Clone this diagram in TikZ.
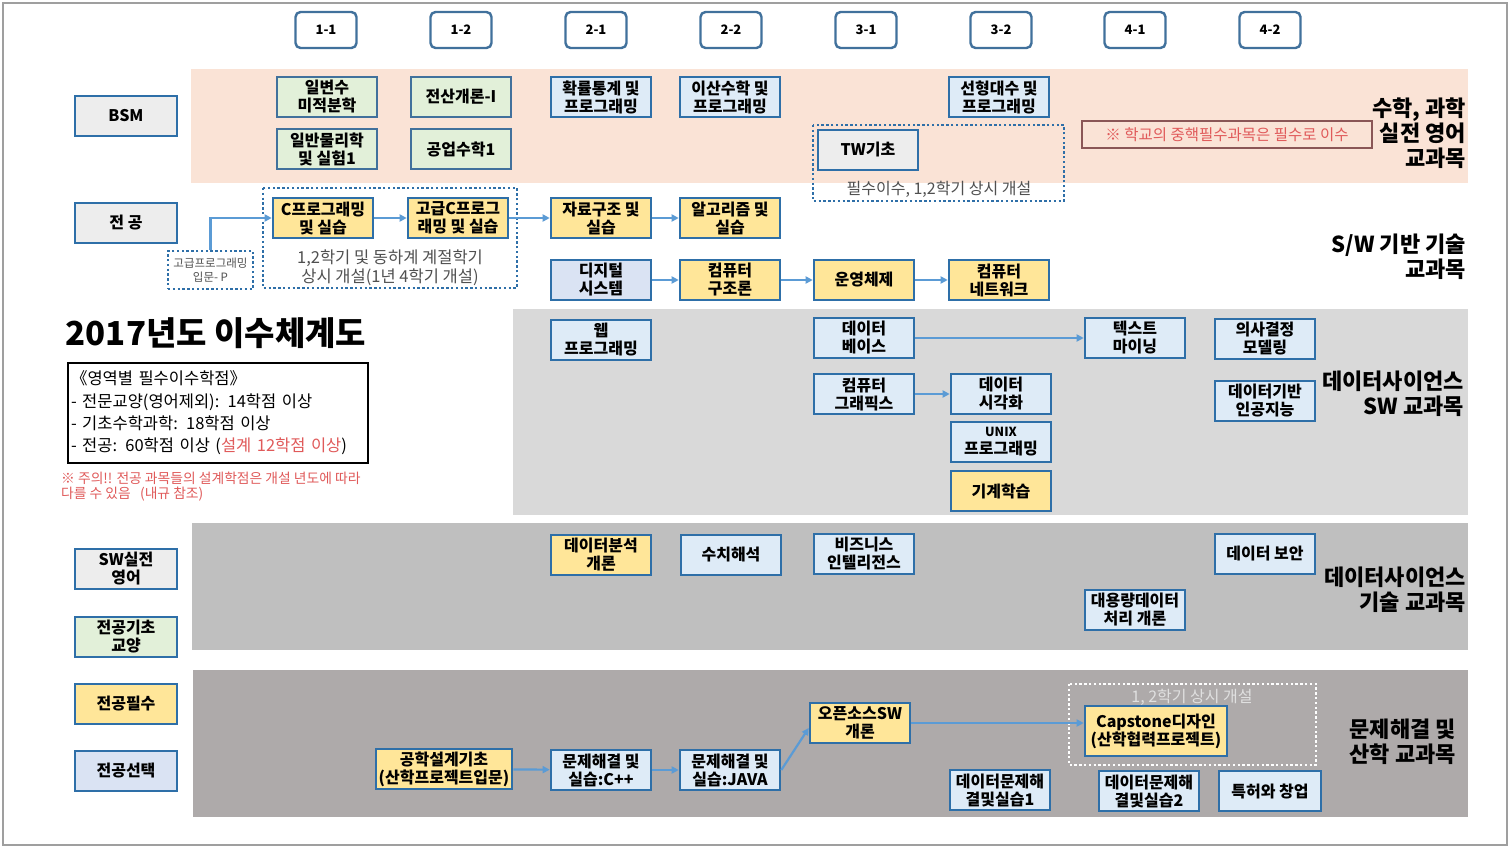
\documentclass[tikz,border=0pt]{standalone}
\usepackage{fontspec}
\setmainfont{Noto Sans CJK KR}
\usetikzlibrary{arrows.meta,calc}

\definecolor{bord}{HTML}{2E6FA8}
\definecolor{gbord}{HTML}{41719C}
\definecolor{sbord}{HTML}{41719C}
\definecolor{arrc}{HTML}{5B9BD5}
\definecolor{cyel}{HTML}{FFE699}
\definecolor{cblu}{HTML}{DEEBF7}
\definecolor{clav}{HTML}{DAE3F3}
\definecolor{cgrn}{HTML}{E2F0D9}
\definecolor{cgry}{HTML}{EDEDED}
\definecolor{cpink}{HTML}{FAE3D6}
\definecolor{band1}{HTML}{D9D9D9}
\definecolor{band2}{HTML}{BFBFBF}
\definecolor{band3}{HTML}{AEAAAA}
\definecolor{notered}{HTML}{E05A5A}
\definecolor{notebord}{HTML}{8A5656}
\definecolor{captext}{HTML}{505050}

\newcommand\kfs[2]{\fontsize{#1}{#2}\selectfont}

\tikzset{
  course/.style={draw=bord, line width=2.6pt, minimum width=100pt, minimum height=40pt,
    inner sep=0pt, align=center, font=\bfseries\kfs{16}{18}},
  yel/.style={course, fill=cyel},
  blu/.style={course, fill=cblu},
  grn/.style={course, fill=cgrn, draw=gbord},
  lav/.style={course, fill=clav},
  gry/.style={course, fill=cgry},
  legbox/.style={course, minimum width=102pt},
  sem/.style={draw=sbord, line width=2.4pt, rounded corners=5pt, fill=white,
    minimum width=61pt, minimum height=36pt, inner sep=0pt, font=\bfseries\kfs{13}{15}},
  arr/.style={-{Triangle[length=7pt,width=7pt]}, draw=arrc, line width=2.2pt},
  dotbox/.style={draw=bord, line width=2.4pt, dash pattern=on 2.4pt off 2.4pt},
  cat/.style={anchor=east, align=right, inner sep=0pt, font=\bfseries\kfs{22}{25}},
  plain/.style={align=center, inner sep=0pt, text=captext, font=\kfs{16.5}{19}},
}

\begin{document}
\begin{tikzpicture}[x=1pt,y=-1pt]
\useasboundingbox (0,0) rectangle (1512,848);
\fill[white] (0,0) rectangle (1512,848);
\draw[gray!75, line width=2pt] (3,3) rectangle (1507,845);

% category bands
\fill[cpink] (191,69) rectangle (1468,183);
\fill[band1] (513,309) rectangle (1468,515);
\fill[band2] (192,523) rectangle (1468,650);
\fill[band3] (193,670) rectangle (1468,817);

% semesters
\node[sem] (s11) at (326,30) {1-1};
\node[sem] (s12) at (461,30) {1-2};
\node[sem] (s21) at (596,30) {2-1};
\node[sem] (s22) at (731,30) {2-2};
\node[sem] (s31) at (866,30) {3-1};
\node[sem] (s32) at (1001,30) {3-2};
\node[sem] (s41) at (1135,30) {4-1};
\node[sem] (s42) at (1270,30) {4-2};

% legend column
\node[legbox, fill=cgry] (lbsm) at (126,116) {BSM};
\node[legbox, fill=cgry] (lmaj) at (126,223) {전 공};
\node[legbox, fill=cgry] (lsw)  at (126,569) {SW실전\\영어};
\node[legbox, fill=cgrn] (lbas) at (126,637) {전공기초\\교양};
\node[legbox, fill=cyel] (lreq) at (126,704) {전공필수};
\node[legbox, fill=clav] (lsel) at (126,771) {전공선택};

% BSM row
\node[grn] (calc1) at (327,97) {일변수\\미적분학};
\node[grn] (phys)  at (327,149) {일반물리학\\및 실험1};
\node[grn] (comp1) at (461,97) {전산개론-I};
\node[grn] (emath) at (461,149) {공업수학1};
\node[blu] (prob)  at (601,97) {확률통계 및\\프로그래밍};
\node[blu] (disc)  at (730,97) {이산수학 및\\프로그래밍};
\node[blu] (linal) at (999,97) {선형대수 및\\프로그래밍};
\draw[dotbox] (813,125) rectangle (1064,201);
\node[gry] (tw) at (868,150) {TW기초};
\node[plain, font=\kfs{16}{17}] (twnote) at (939,189) {필수이수, 1,2학기 상시 개설};
\node[draw=notebord, line width=1.2pt, minimum width=290pt, minimum height=27pt, inner sep=0pt,
  text=notered, font=\kfs{15.5}{17}] (must) at (1227,134.5) {※ 학교의 중핵필수과목은 필수로 이수};
\node[cat] (catbsm) at (1466,133) {수학, 과학\\실전 영어\\교과목};

% S/W foundation rows
\draw[dotbox] (263,188) rectangle (517,288);
\node[yel] (cprog) at (323,218) {C프로그래밍\\및 실습};
\node[yel] (adcp)  at (458,218) {고급C프로그\\래밍 및 실습};
\node[plain] (sem4) at (390,267.5) {1,2학기 및 동하계 계절학기\\상시 개설(1년 4학기 개설)};
\node[dotbox, minimum width=85pt, minimum height=38pt, inner sep=0pt, align=center,
  text=captext, font=\kfs{11.5}{13.5}] (gp) at (210.5,270) {고급프로그래밍\\입문- P};
\node[yel] (ds)   at (601,218) {자료구조 및\\실습};
\node[yel] (algo) at (730,218) {알고리즘 및\\실습};
\node[lav] (dig)  at (601,280) {디지털\\시스템};
\node[yel] (arch) at (730,280) {컴퓨터\\구조론};
\node[yel] (os)   at (864,280) {운영체제};
\node[yel] (net)  at (999,280) {컴퓨터\\네트워크};
\node[cat] (catsw) at (1466,257) {S/W 기반 기술\\교과목};
\draw[arr] (gp.north) |- (cprog.west);
\draw[arr] (cprog) -- (adcp);
\draw[arr] (adcp) -- (ds);
\draw[arr] (ds) -- (algo);
\draw[arr] (dig) -- (arch);
\draw[arr] (arch) -- (os);
\draw[arr] (os) -- (net);

% title and credit summary
\node[inner sep=0pt, font=\bfseries\kfs{33}{36}] (title) at (216,333) {2017년도 이수체계도};
\node[draw=black, line width=1.5pt, minimum width=300pt, minimum height=100pt, text width=294pt,
  inner sep=0pt, align=left, font=\kfs{16.5}{22.3}] (credits) at (218,413)
  {《영역별 필수이수학점》\\
   - 전문교양(영어제외): 14학점 이상\\
   - 기초수학과학: 18학점 이상\\
   - 전공: 60학점 이상 ({\color{notered}설계 12학점 이상})};
\node[anchor=north west, inner sep=0pt, align=left, text=notered, font=\kfs{13.8}{15}] (warn) at (61,472)
  {※ 주의!! 전공 과목들의 설계학점은 개설 년도에 따라\\다를 수 있음 \ \ (내규 참조)};

% data science SW band
\node[blu] (web)  at (601,340) {웹\\프로그래밍};
\node[blu] (db)   at (864,338) {데이터\\베이스};
\node[blu] (cg)   at (864,394) {컴퓨터\\그래픽스};
\node[blu] (vis)  at (1001,394) {데이터\\시각화};
\node[blu] (unix) at (1001,442) {{\kfs{12.5}{15}UNIX}\\프로그래밍};
\node[yel] (ml)   at (1001,491) {기계학습};
\node[blu] (tm)   at (1135,338) {텍스트\\마이닝};
\node[blu] (dm)   at (1265,339) {의사결정\\모델링};
\node[blu] (ai)   at (1265,401) {데이터기반\\인공지능};
\node[cat] (catds) at (1464,394) {데이터사이언스\\SW 교과목};
\draw[arr] (db) -- (tm);
\draw[arr] (cg) -- (vis);

% data science technology band
\node[yel] (da)  at (601,555) {데이터분석\\개론};
\node[blu] (na)  at (731,555) {수치해석};
\node[blu] (bi)  at (864,554) {비즈니스\\인텔리전스};
\node[blu] (sec) at (1265,554) {데이터 보안};
\node[blu] (big) at (1135,610) {대용량데이터\\처리 개론};
\node[cat] (catdt) at (1466,590) {데이터사이언스\\기술 교과목};

% problem solving / industry band
\draw[dotbox, draw=white] (1069,684) rectangle (1316,765);
\node[plain, text=white!88!black, font=\kfs{16}{17}] (capnote) at (1192,697) {1, 2학기 상시 개설};
\node[yel, minimum width=136pt] (eng) at (444,769) {공학설계기초\\(산학프로젝트입문)};
\node[blu] (cpp)  at (601,770) {문제해결 및\\실습:C++};
\node[blu] (java) at (730,770) {문제해결 및\\실습:JAVA};
\node[yel] (oss)  at (860,723) {오픈소스SW\\개론};
\node[blu] (dp1)  at (1000,790) {데이터문제해\\결및실습1};
\node[yel, minimum width=142pt, minimum height=50pt] (cap) at (1156,731) {Capstone디자인\\(산학협력프로젝트)};
\node[blu] (dp2)  at (1149,791) {데이터문제해\\결및실습2};
\node[blu, minimum width=102pt] (pat) at (1270,791) {특허와 창업};
\node[cat] (catps) at (1456,742) {문제해결 및\\산학 교과목};
\draw[arr] (eng) -- (cpp);
\draw[arr] (cpp) -- (java);
\draw[arr] (java.east) -- ($(oss.west)+(0,5)$);
\draw[arr] (oss.east) -- (oss.east -| cap.west);
\end{tikzpicture}
\end{document}
